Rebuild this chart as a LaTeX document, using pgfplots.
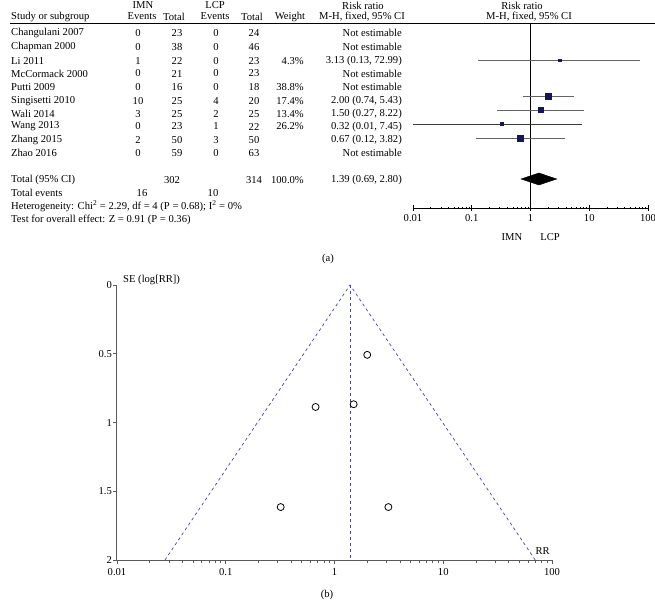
\documentclass[border=0pt]{standalone}
\usepackage{pgfplots}
\pgfplotsset{compat=1.18}
\usepackage{fontspec}
\setmainfont{Liberation Serif}
\definecolor{boxnavy}{RGB}{20,20,95}
\definecolor{cigray}{RGB}{100,100,100}
\definecolor{funnelblue}{RGB}{70,70,150}
\definecolor{axgray}{RGB}{90,90,90}
\begin{document}
\fontsize{10.6}{12}\selectfont
\begin{tikzpicture}[every node/.style={inner sep=0pt}]
\useasboundingbox (0pt,0pt) rectangle (655pt,-601pt);
% ---------- headers ----------
\node at (143pt,-5.5pt) {IMN};
\node at (215pt,-5.5pt) {LCP};
\node at (363pt,-5.5pt) {Risk ratio};
\node at (522pt,-5.5pt) {Risk ratio};
\node[anchor=west] at (11pt,-16.5pt) {Study or subgroup};
\node at (142pt,-16.5pt) {Events};
\node at (174pt,-16.5pt) {Total};
\node at (215pt,-16.5pt) {Events};
\node at (252pt,-16.5pt) {Total};
\node at (290pt,-16.5pt) {Weight};
\node at (362pt,-16.5pt) {M-H, fixed, 95\% CI};
\node at (529pt,-16.5pt) {M-H, fixed, 95\% CI};
\draw[line width=0.8pt] (10pt,-23pt) -- (655pt,-23pt);
% ---------- study rows ----------
\foreach \y/\n/\a/\b/\c/\d/\w/\r in {
  33/{Changulani 2007}/0/23/0/24/{}/{Not estimable},
  47/{Chapman 2000}/0/38/0/46/{}/{Not estimable},
  61/{Li 2011}/1/22/0/23/{4.3\%}/{3.13 (0.13, 72.99)},
  73.5/{McCormack 2000}/0/21/0/23/{}/{Not estimable},
  87/{Putti 2009}/0/16/0/18/{38.8\%}/{Not estimable},
  101/{Singisetti 2010}/10/25/4/20/{17.4\%}/{2.00 (0.74, 5.43)},
  114/{Wali 2014}/3/25/2/25/{13.4\%}/{1.50 (0.27, 8.22)},
  126.5/{Wang 2013}/0/23/1/22/{26.2\%}/{0.32 (0.01, 7.45)},
  140/{Zhang 2015}/2/50/3/50/{}/{0.67 (0.12, 3.82)},
  152.7/{Zhao 2016}/0/59/0/63/{}/{Not estimable}}{
  \node[anchor=west] at (11pt,-\y pt) {\n};
  \node at (138pt,-\y pt) {\a};
  \node at (177pt,-\y pt) {\b};
  \node at (216pt,-\y pt) {\c};
  \node at (254pt,-\y pt) {\d};
  \node[anchor=east] at (304pt,-\y pt) {\w};
  \node[anchor=east] at (402pt,-\y pt) {\r};
}
\node[anchor=west] at (11pt,-180pt) {Total (95\% CI)};
\node at (172pt,-180pt) {302};
\node at (254pt,-180pt) {314};
\node[anchor=east] at (304pt,-180pt) {100.0\%};
\node[anchor=east] at (402pt,-180pt) {1.39 (0.69, 2.80)};
\node[anchor=west] at (11pt,-193pt) {Total events};
\node at (142pt,-193pt) {16};
\node at (213pt,-193pt) {10};
\node[anchor=west] at (11pt,-206.5pt) {Heterogeneity: Chi\textsuperscript{2} = 2.29, df = 4 (P = 0.68); I\textsuperscript{2} = 0\%};
\node[anchor=west] at (11pt,-220pt) {Test for overall effect: Z = 0.91 (P = 0.36)};
\node at (512pt,-237pt) {IMN};
\node at (550pt,-237pt) {LCP};
\node at (328pt,-259pt) {(a)};
% ---------- forest plot ----------
\begin{axis}[
  at={(413pt,-208pt)}, anchor=south west,
  scale only axis, width=235pt, height=185pt,
  xmode=log, xmin=0.01, xmax=100, ymin=-208, ymax=-23,
  axis x line=bottom, axis y line=none,
  axis line style={-, line width=0.6pt},
  xtick={0.01,0.1,1,10,100}, xticklabels={0.01,0.1,1,10,100},
  minor xtick={}, tick align=center, major tick length=6pt,
  tick style={line width=0.6pt, black},
  xticklabel style={font=\fontsize{10.6}{12}\selectfont, yshift=-3pt},
  /pgf/number format/assume math mode=true,
  clip=false]
\addplot[black, line width=0.6pt] coordinates {(1,-23) (1,-208)};
\addplot[cigray, line width=0.7pt] coordinates {(0.13,-60) (72.99,-60)};
\addplot[cigray, line width=0.7pt] coordinates {(0.74,-96) (5.43,-96)};
\addplot[cigray, line width=0.7pt] coordinates {(0.27,-110) (8.22,-110)};
\addplot[cigray!60!black, line width=0.7pt] coordinates {(0.01,-124) (7.45,-124)};
\addplot[cigray, line width=0.7pt] coordinates {(0.12,-138) (3.82,-138)};
\addplot[only marks, mark=square*, mark size=1.2pt, boxnavy] coordinates {(3.13,-60)};
\addplot[only marks, mark=square*, mark size=3pt, boxnavy] coordinates {(2.00,-96)};
\addplot[only marks, mark=square*, mark size=2.3pt, boxnavy] coordinates {(1.50,-110)};
\addplot[only marks, mark=square*, mark size=1.6pt, boxnavy] coordinates {(0.32,-124)};
\addplot[only marks, mark=square*, mark size=3pt, boxnavy] coordinates {(0.67,-138)};
\addplot[fill=black, draw=black] coordinates {(0.69,-179) (1.39,-173) (2.80,-179) (1.39,-185)} -- cycle;
\end{axis}
% ---------- funnel plot ----------
\node[anchor=west] at (123pt,-280pt) {SE (log[RR])};
\begin{axis}[
  at={(117pt,-560pt)}, anchor=south west,
  scale only axis, width=435pt, height=275pt,
  xmode=log, xmin=0.01, xmax=100, ymin=-2, ymax=0,
  axis lines=left,
  axis line style={-, axgray, line width=1pt},
  xtick={0.01,0.1,1,10,100}, xticklabels={0.01,0.1,1,10,100},
  ytick={0,-0.5,-1,-1.5,-2}, yticklabels={0,0.5,1,1.5,2},
  minor xtick={}, tick align=outside, major tick length=4pt,
  tick style={axgray, line width=0.7pt},
  ticklabel style={font=\fontsize{10.6}{12}\selectfont},
  xticklabel style={yshift=-4pt},
  yticklabel style={xshift=-1pt},
  /pgf/number format/assume math mode=true,
  clip=false]
\addplot[funnelblue, dashed, line width=0.7pt] coordinates {(0.0276,-2) (1.39,0) (70.1,-2)};
\addplot[funnelblue, dashed, line width=0.7pt] coordinates {(1.39,0) (1.39,-2)};
\addplot[only marks, mark=o, mark size=3.5pt, black, mark options={line width=0.8pt}] coordinates {
  (2.00,-0.508) (0.67,-0.887) (1.50,-0.867) (0.32,-1.615) (3.13,-1.615)};
\node at (axis cs:82,-1.935) {RR};
\end{axis}
\node at (327pt,-595pt) {(b)};
\end{tikzpicture}
\end{document}
